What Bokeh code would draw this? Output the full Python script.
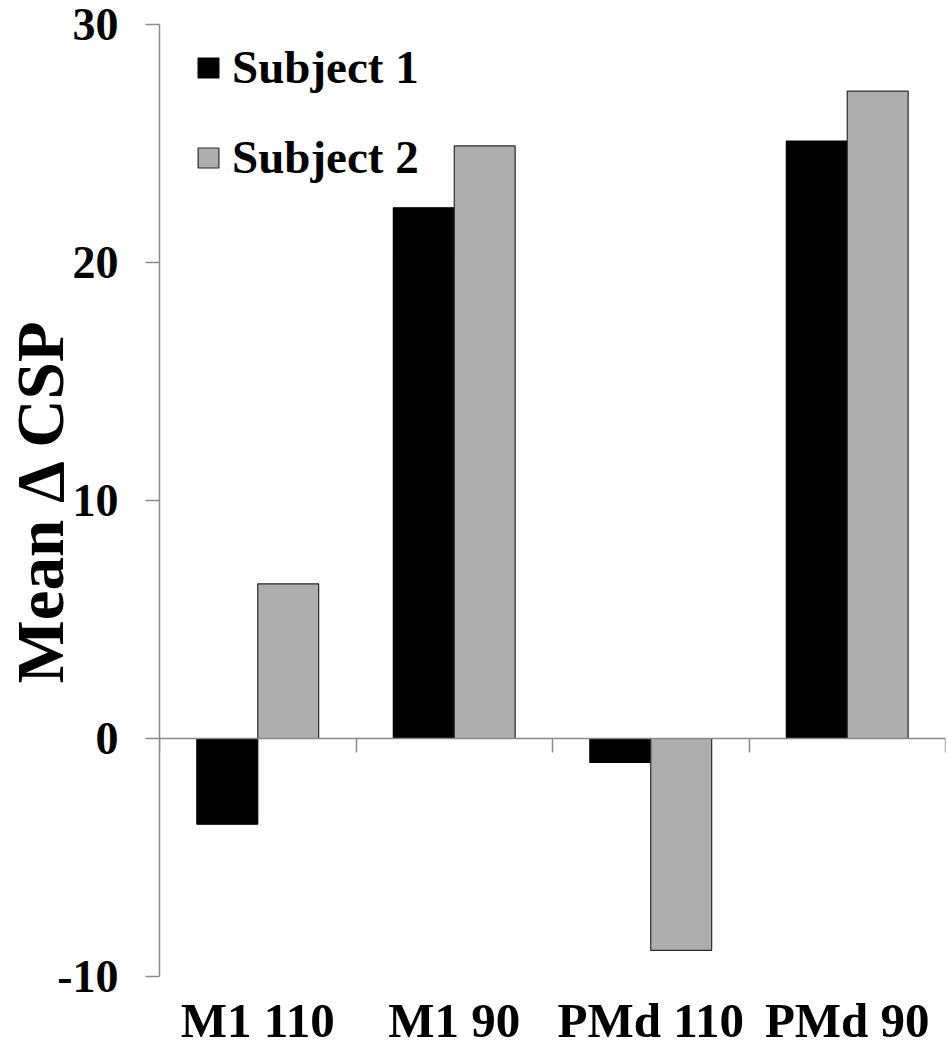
from bokeh.plotting import figure
from bokeh.models import (ColumnDataSource, FactorRange, Range1d, LinearAxis,
                          FixedTicker, Legend, LegendItem)
from bokeh.transform import dodge
from bokeh.embed import file_html
from bokeh.resources import INLINE

categories = ["M1 110", "M1 90", "PMd 110", "PMd 90"]
subject1 = [-3.6, 22.3, -1.0, 25.1]
subject2 = [6.5, 24.9, -8.9, 27.2]
series_names = ["Subject 1", "Subject 2"]
y_ticks = [-10, 0, 10, 20, 30]
y_tick_labels = {-10: "-10", 0: "0", 10: "10", 20: "20", 30: "30"}
y_title = "Mean \u0394 CSP"

FONT = "Liberation Serif"
AXIS_GREY = "#8a8a8a"

src = ColumnDataSource(dict(cat=categories, s1=subject1, s2=subject2))

p = figure(width=948, height=1050, output_backend="svg", toolbar_location=None,
           x_range=FactorRange(*categories, range_padding=0, factor_padding=0),
           y_range=Range1d(-10, 30),
           min_border_left=159, min_border_right=3, min_border_top=24,
           min_border_bottom=74)
p.outline_line_color = None
p.xgrid.visible = False
p.ygrid.visible = False
p.background_fill_color = "white"
p.border_fill_color = "white"

bw = 0.31
r1 = p.vbar(x=dodge("cat", -bw / 2, range=p.x_range), top="s1", bottom=0, width=bw,
            source=src, fill_color="black", line_color="black", line_width=1.2)
r2 = p.vbar(x=dodge("cat", bw / 2, range=p.x_range), top="s2", bottom=0, width=bw,
            source=src, fill_color="#adadad", line_color="#2a2a2a", line_width=1.2)

# category labels axis (bottom)
xa = p.xaxis[0]
xa.axis_line_color = None
xa.major_tick_line_color = None
xa.major_tick_out = 0
xa.major_tick_in = 0
xa.major_label_standoff = 16
xa.major_label_text_font = FONT
xa.major_label_text_font_style = "bold"
xa.major_label_text_font_size = "49px"
xa.major_label_text_color = "black"

# category axis crossing at zero with tick marks at category boundaries
# (synthetic factor coordinates: boundaries at 0, 1, ..., n)
zero_axis = LinearAxis(fixed_location=0,
                       ticker=FixedTicker(ticks=list(range(len(categories) + 1))),
                       axis_line_color=AXIS_GREY, axis_line_width=1.5,
                       major_tick_line_color=AXIS_GREY, major_tick_line_width=1.5,
                       major_tick_out=14, major_tick_in=0,
                       minor_tick_line_color=None,
                       major_label_text_color=None, major_label_text_font_size="1px")
p.add_layout(zero_axis, "below")

ya = p.yaxis[0]
ya.ticker = FixedTicker(ticks=y_ticks)
ya.major_label_overrides = y_tick_labels
ya.axis_line_color = AXIS_GREY
ya.axis_line_width = 1.5
ya.major_tick_line_color = AXIS_GREY
ya.major_tick_line_width = 1.5
ya.major_tick_out = 14
ya.major_tick_in = 0
ya.minor_tick_line_color = None
ya.major_label_standoff = 27
ya.major_label_text_font = FONT
ya.major_label_text_font_style = "bold"
ya.major_label_text_font_size = "46px"
ya.major_label_text_color = "black"
ya.axis_label = y_title
ya.axis_label_text_font = FONT
ya.axis_label_text_font_style = "bold"
ya.axis_label_text_font_size = "67px"
ya.axis_label_text_color = "black"
ya.axis_label_standoff = -23

legend = Legend(items=[LegendItem(label=series_names[0], renderers=[r1]),
                       LegendItem(label=series_names[1], renderers=[r2])],
                location=(36, 792))
legend.border_line_color = None
legend.background_fill_alpha = 0
legend.padding = 0
legend.margin = 0
legend.glyph_width = 26
legend.glyph_height = 25
legend.label_standoff = 11
legend.spacing = 36
legend.label_text_font = FONT
legend.label_text_font_style = "bold"
legend.label_text_font_size = "47px"
legend.label_text_color = "black"
p.add_layout(legend, "center")

open("out.html", "w").write(file_html(p, INLINE))
